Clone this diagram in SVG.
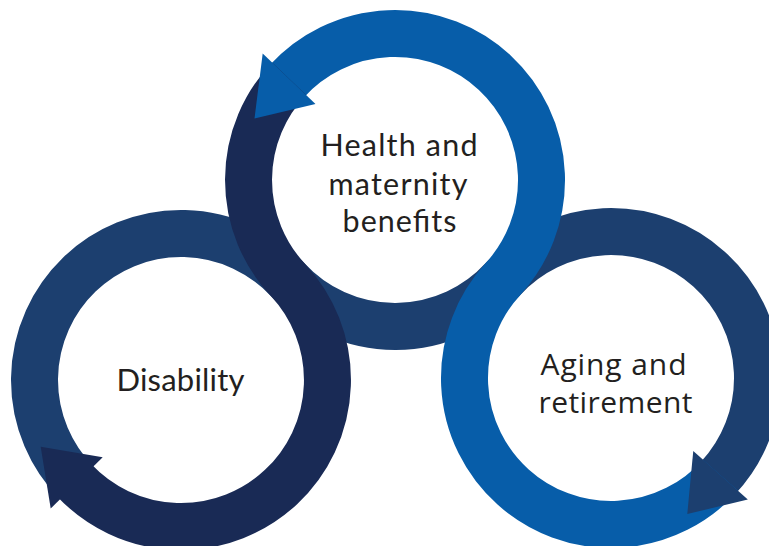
<svg xmlns="http://www.w3.org/2000/svg" width="769" height="546" viewBox="0 0 769 546">
  <style>
    .band { fill: none; stroke-width: 47; stroke-linecap: butt; }
    .mid { stroke: #1c3f6f; }
    .blue { stroke: #075da9; }
    .dark { stroke: #192a55; }
    .midf { fill: #1c3f6f; }
    .bluef { fill: #075da9; }
    .darkf { fill: #192a55; }
    .lab { fill: #231f20; text-anchor: middle; }
    .lato { font-family: Lato, "Noto Sans", "DejaVu Sans", sans-serif; font-size: 30.5px; }
    .open { font-family: "Open Sans", "Noto Sans", "DejaVu Sans", sans-serif; font-size: 30px; }
  </style>
  <rect width="769" height="546" fill="#ffffff"/>
  <g id="connectors">
    <path class="band mid" d="M 76.70 482.87 A 146.5 146.5 0 0 1 79.23 274.62 A 146.5 146.5 0 0 1 288 280 A 146.5 146.5 0 0 0 503 279 A 146.5 146.5 0 0 1 709.03 269.13 A 146.5 146.5 0 0 1 717.97 478.1"/>
    <path class="band blue" d="M 720.55 475.26 A 146.5 146.5 0 0 1 512.97 486.87 A 146.5 146.5 0 0 1 503 279 A 146.5 146.5 0 0 0 494.91 72.85 A 146.5 146.5 0 0 0 286.47 81.6"/>
    <path class="band dark" d="M 289.08 78.78 A 146.5 146.5 0 0 0 288 280 A 146.5 146.5 0 0 1 281.04 487.02 A 146.5 146.5 0 0 1 74.03 480.1"/>
    <polygon class="bluef" points="262.69,53.57 254.5,118.5 315.47,104.0"/>
    <polygon class="darkf" points="50.7,508.5 40.7,446.7 102.7,457.2"/>
    <polygon class="midf" points="747.85,499.5 687.3,514 693.26,451.03"/>
  </g>
  <g id="node-health">
    <text class="lab lato" x="399" y="156" textLength="157" lengthAdjust="spacing">Health and</text>
    <text class="lab lato" x="398" y="194.5" textLength="139" lengthAdjust="spacing">maternity</text>
    <text class="lab lato" x="399.5" y="232" textLength="114" lengthAdjust="spacing">benefits</text>
  </g>
  <g id="node-disability">
    <text class="lab lato" x="180.5" y="390.5" style="font-size:31px" textLength="128" lengthAdjust="spacing">Disability</text>
  </g>
  <g id="node-aging">
    <text class="lab open" x="613.5" y="375" textLength="146" lengthAdjust="spacing">Aging and</text>
    <text class="lab open" x="615.5" y="413" textLength="154" lengthAdjust="spacing">retirement</text>
  </g>
</svg>
